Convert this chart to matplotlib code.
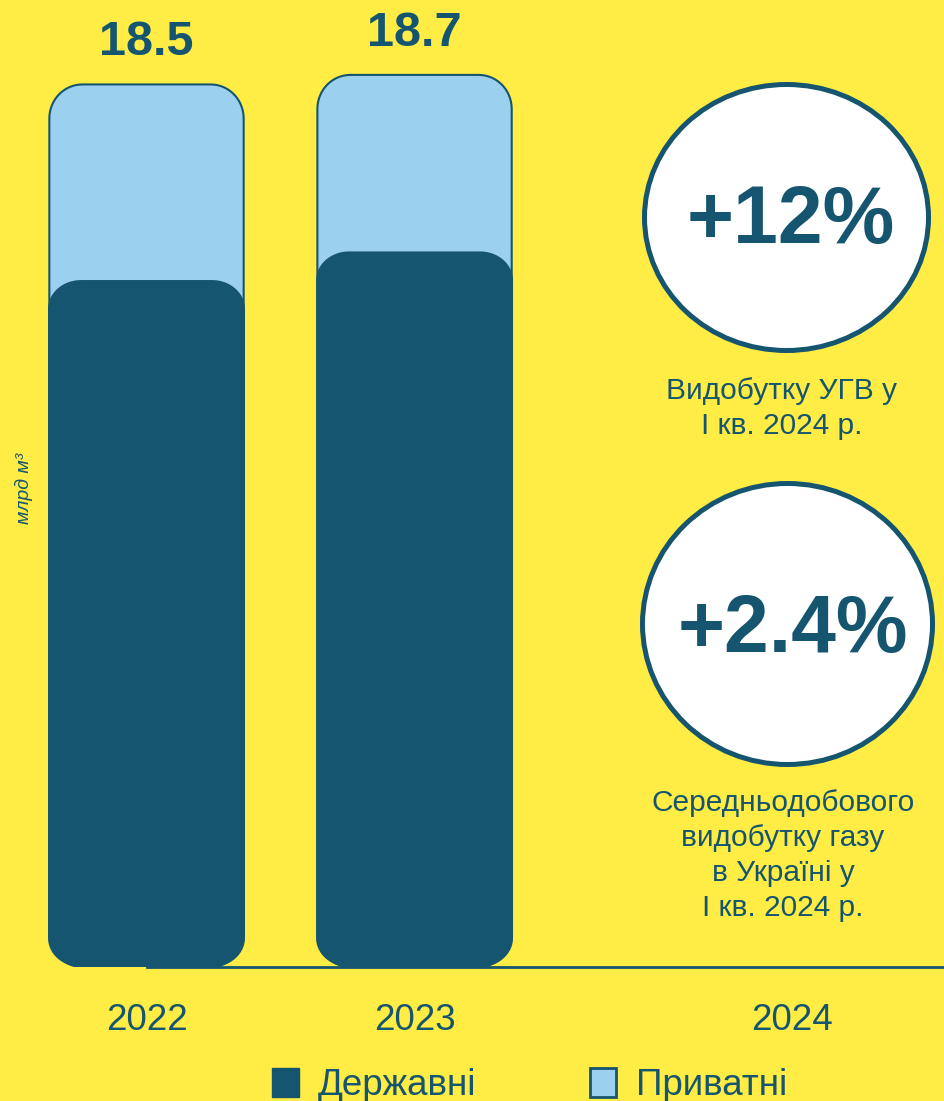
import numpy as np
import matplotlib.pyplot as plt
from matplotlib.patches import Ellipse, Patch, Polygon

plt.rcParams['font.family'] = ['Liberation Sans', 'DejaVu Sans']

# data
years = ['2022', '2023', '2024']
state = [14.4, 15.0]      # Державні
private = [4.1, 3.7]      # Приватні
series_names = ['Державні', 'Приватні']
stats = ['+12%', '+2.4%']
stat_notes = ['Видобутку УГВ у\nI кв. 2024 р.',
              'Середньодобового\nвидобутку газу\nв Україні у\nI кв. 2024 р.']
unit = 'млрд м³'

YELLOW = '#FFEC44'
DARK = '#16556F'
LIGHT = '#9BD0EE'

W, H = 945, 1101
fig = plt.figure(figsize=(W / 100, H / 100), dpi=100, facecolor=YELLOW)

# bar axes: baseline at 134 px from bottom, left edge at bar 1
ax = fig.add_axes([48 / W, 134 / H, (W - 48) / W, (H - 134) / H])
ax.set_facecolor('none')
x_pos = [0, 1, 2.41]
ax.set_xlim(-0.3675, 2.979)
ax.set_ylim(0, 20.27)

# pixel size of one data unit, so the corners stay round
px_x = ax.get_position().width * W / (ax.get_xlim()[1] - ax.get_xlim()[0])
px_y = ax.get_position().height * H / (ax.get_ylim()[1] - ax.get_ylim()[0])


def rounded_bar(x, height, width, r_px, **kw):
    rx = r_px[0] / px_x
    ry = r_px[1] / px_y
    x0, x1 = x - width / 2, x + width / 2
    y0, y1 = 0, height
    t = np.linspace(0, np.pi / 2, 16)
    corners = [(x1 - rx, y1 - ry, 0), (x0 + rx, y1 - ry, np.pi / 2),
               (x0 + rx, y0 + ry, np.pi), (x1 - rx, y0 + ry, 1.5 * np.pi)]
    verts = []
    for cx, cy, a in corners:
        verts += list(zip(cx + rx * np.cos(a + t), cy + ry * np.sin(a + t)))
    ax.add_patch(Polygon(verts, closed=True, **kw))


for i in range(len(state)):
    total = state[i] + private[i]
    rounded_bar(x_pos[i], total, 0.725, (33, 34), facecolor=LIGHT,
                edgecolor=DARK, linewidth=1.5, zorder=3)
    rounded_bar(x_pos[i], state[i], 0.735, (33, 29), facecolor=DARK,
                edgecolor='none', zorder=4)
    ax.annotate(f'{total:.1f}', xy=(x_pos[i], total), xytext=(0, 21),
                textcoords='offset points', ha='center', va='baseline',
                fontsize=35, fontweight='bold', color=DARK)

for s in ['top', 'right', 'left']:
    ax.spines[s].set_visible(False)
ax.spines['bottom'].set_color(DARK)
ax.spines['bottom'].set_linewidth(2)
ax.spines['bottom'].set_zorder(2)
ax.spines['bottom'].set_bounds(0, ax.get_xlim()[1])
ax.set_yticks([])
ax.set_xticks(x_pos, years)
ax.tick_params(axis='x', length=0, pad=26, labelsize=26.5, labelcolor=DARK)

fig.text(24 / W, 1 - 488 / H, unit, rotation=90, style='italic', fontsize=14,
         color=DARK, ha='center', va='center')

# callout circles on the right
ov = fig.add_axes([0, 0, 1, 1], zorder=5)
ov.set_xlim(0, W)
ov.set_ylim(H, 0)
ov.axis('off')

circles = [((786.5, 217.5), 284, 266), ((787.5, 624), 290, 281)]
stat_base = [(791, 243), (792.5, 652)]
note_top = [(782, 377), (783, 789)]
for i in range(2):
    c, w, h = circles[i]
    ov.add_patch(Ellipse(c, w, h, facecolor='white', edgecolor=DARK, linewidth=3.6))
    ov.text(*stat_base[i], stats[i], ha='center', va='baseline', fontsize=58,
            fontweight='bold', color=DARK)
    ov.text(*note_top[i], stat_notes[i], ha='center', va='top', fontsize=21.5,
            color=DARK, linespacing=1.32)

handles = [Patch(facecolor=DARK, edgecolor=DARK),
           Patch(facecolor=LIGHT, edgecolor=DARK, linewidth=2)]
fig.legend(handles, series_names, loc='lower left', bbox_to_anchor=(272 / W, -2 / H),
           ncol=2, frameon=False, fontsize=26.5, handlelength=0.73, handleheight=0.82,
           handletextpad=0.52, columnspacing=3.07, borderpad=0, borderaxespad=0,
           labelcolor=DARK)

fig.savefig('out.png', dpi=100, facecolor=YELLOW)
